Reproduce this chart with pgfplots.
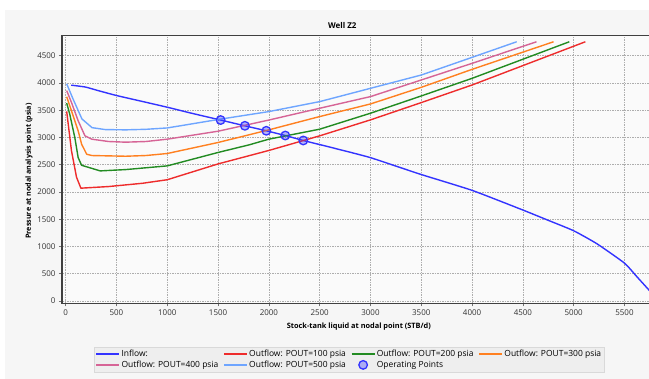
\documentclass[border=0pt]{standalone}
\usepackage{fontspec}
\setmainfont{Open Sans}
\usepackage{pgfplots}
\pgfplotsset{compat=1.18}
\definecolor{cin}{RGB}{51,51,255}
\definecolor{cred}{RGB}{238,44,44}
\definecolor{cgreen}{RGB}{34,139,34}
\definecolor{corange}{RGB}{255,128,32}
\definecolor{cpink}{RGB}{214,100,150}
\definecolor{clblue}{RGB}{110,165,255}
\definecolor{panel}{RGB}{246,246,246}
\definecolor{plotbg}{RGB}{250,250,250}
\definecolor{legbg}{RGB}{238,238,238}
\pgfplotsset{
  linelegend/.style={legend image code/.code={\draw[##1, line width=1.4bp] (0bp,0bp) -- (23bp,0bp);}},
  oplegend/.style={legend image code/.code={\draw[##1] plot coordinates {(11.5bp,0bp)};}},
}
\begin{document}
\begin{tikzpicture}
\fill[white] (-62bp,-75.7bp) rectangle (587bp,303.3bp);
\fill[panel] (-57bp,-75.7bp) rectangle (587bp,293.3bp);
\begin{axis}[
  scale only axis, width=589bp, height=267.8bp,
  xmin=-36, xmax=5761, ymin=-42, ymax=4871,
  clip mode=individual,
  xtick={0,500,...,5500}, ytick={0,500,...,4500},
  axis background/.style={fill=plotbg},
  grid=major,
  major grid style={dash pattern=on 1.5bp off 1bp, color=black!32, line width=0.7bp},
  axis line style={color=black!75, line width=1.3bp},
  tick align=outside, major tick length=3bp,
  tick style={color=black!55, line width=0.6bp},
  xtick pos=left, ytick pos=left,
  ticklabel style={font=\fontsize{8}{9}\selectfont, color=black!80},
  /pgf/number format/assume math mode=true,
  /pgf/number format/1000 sep={},
  xlabel={Stock-tank liquid at nodal point (STB/d)},
  ylabel={Pressure at nodal analysis point (psia)},
  xlabel style={font=\bfseries\fontsize{7.4}{9}\selectfont, at={(axis description cs:0.504,-0.088)}, anchor=center},
  ylabel style={font=\bfseries\fontsize{7.2}{9}\selectfont, at={(axis description cs:-0.056,0.494)}, anchor=center},
  legend columns=4,
  legend cell align=left,
  legend style={at={(axis description cs:0.0543,-0.162)}, anchor=north west,
    fill=legbg, draw=black!15, line width=0.5bp,
    font=\fontsize{8.5}{10}\selectfont, inner sep=1.5bp,
    nodes={inner sep=1.5bp},
    /tikz/every even column/.append style={column sep=3.5bp}},
  linelegend,
  every axis plot/.append style={line width=1.4bp, line join=round},
]
\addplot[cin, smooth, tension=0.3] coordinates {
(55,3960) (195,3925) (320,3860) (500,3770) (757,3660) (1000,3555) (1250,3440)
(1525,3320) (1764,3214) (1975,3123) (2162,3036) (2339,2945) (2650,2800) (3000,2630)
(3480,2332) (4000,2030) (4500,1669) (4750,1480) (5000,1289) (5230,1049) (5500,695)
(5620,450) (5761,160)};
\addlegendentry{Inflow:}
\addplot[cred] coordinates {
(10,3480) (25,3250) (57,2760) (107,2270) (150,2070) (423,2100) (757,2160)
(1000,2225) (1500,2515) (2000,2762) (2500,3030) (3000,3323) (3500,3640)
(4000,3963) (5115,4756)};
\addlegendentry{Outflow: POUT=100 psia}
\addplot[cgreen] coordinates {
(10,3632) (40,3430) (90,3000) (123,2632) (157,2490) (340,2387) (590,2411)
(1000,2479) (1500,2725) (1806,2865) (2000,2969) (2500,3152) (3000,3445)
(3500,3762) (4000,4085) (4957,4756)};
\addlegendentry{Outflow: POUT=200 psia}
\addplot[corange] coordinates {
(10,3748) (57,3490) (123,3123) (157,2877) (207,2693) (257,2669) (590,2656)
(790,2669) (1000,2706) (1500,2908) (2000,3140) (2500,3384) (3000,3615)
(3500,3920) (4000,4250) (4802,4756)};
\addlegendentry{Outflow: POUT=300 psia}
\addplot[cpink] coordinates {
(10,3860) (57,3644) (123,3307) (190,3030) (257,2969) (423,2926) (590,2914)
(790,2926) (1000,2969) (1500,3115) (2000,3320) (2500,3536) (3000,3750)
(3500,4055) (4000,4360) (4634,4756)};
\addlegendentry{Outflow: POUT=400 psia}
\addplot[clblue] coordinates {
(10,3985) (73,3705) (160,3340) (260,3180) (390,3145) (590,3140) (790,3150)
(1000,3175) (1276,3260) (1500,3330) (2000,3475) (2500,3658) (3000,3902) (3500,4146)
(4000,4470) (4439,4756)};
\addlegendentry{Outflow: POUT=500 psia}
\addplot[only marks, mark=*, mark size=4.3bp,
  mark options={draw=cin, fill=cin, fill opacity=0.35, line width=1.3bp},
  oplegend] coordinates {
(1525,3320) (1764,3214) (1975,3123) (2162,3036) (2339,2945)};
\addlegendentry{Operating Points}
\node[font=\bfseries\fontsize{8}{9}\selectfont, anchor=center, inner sep=0pt]
  at (axis description cs:0.476,1.039) {Well Z2};
\end{axis}
\pgfresetboundingbox
\path (-62bp,-75.7bp) rectangle (587bp,303.3bp);
\end{tikzpicture}
\end{document}
